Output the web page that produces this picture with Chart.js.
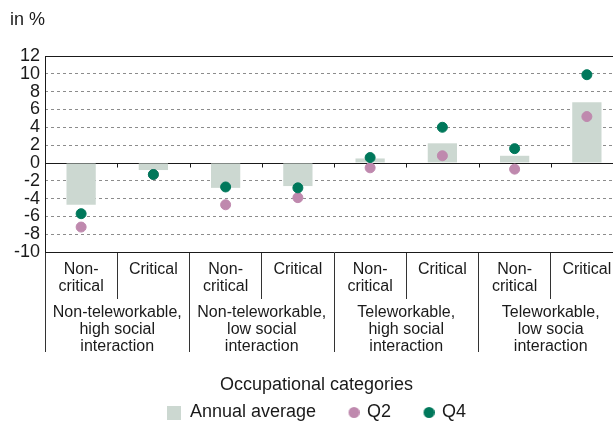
<!DOCTYPE html>
<html>
<head>
<meta charset="utf-8">
<script src="https://cdn.jsdelivr.net/npm/chart.js@4.4.1/dist/chart.umd.min.js"></script>
<style>
html,body{margin:0;padding:0;overflow:hidden;background:#fff;}
#wrap{width:630px;height:440px;}
</style>
</head>
<body>
<div id="wrap"><canvas id="c" width="630" height="440"></canvas></div>
<script>
// ---- data ----
const subLabels = [['Non-','critical'],'Critical',['Non-','critical'],'Critical',['Non-','critical'],'Critical',['Non-','critical'],'Critical'];
const groupLabels = [
  ['Non-teleworkable,','high social','interaction'],
  ['Non-teleworkable,','low social','interaction'],
  ['Teleworkable,','high social','interaction'],
  ['Teleworkable,','low socia','interaction']
];
const annualAverage = [-4.7, -0.8, -2.8, -2.6, 0.5, 2.2, 0.8, 6.8];
const q2Values      = [-7.2, -1.3, -4.7, -3.9, -0.55, 0.8, -0.7, 5.2];
const q4Values      = [-5.7, -1.3, -2.7, -2.8, 0.6, 4.0, 1.6, 9.9];
const seriesNames = ['Annual average','Q2','Q4'];
const yMin = -10, yMax = 12, yStep = 2;
const unitLabel = 'in %';
const axisTitle = 'Occupational categories';

// ---- styles ----
const FONT = '"Liberation Sans", Arial, Helvetica, sans-serif';
const TXT = '#1a1a1a';
const barColor = '#ccd8d1';
const q2Color = '#bf89ae';
const q4Color = '#00785b';

function makeIcon(shape, color, size, shift){
  const w = size + 2 * (shift || 0);
  const c = document.createElement('canvas');
  c.width = w; c.height = size;
  const g = c.getContext('2d');
  g.fillStyle = color;
  if (shape === 'rect') { g.fillRect(0,0,size,size); }
  else { g.beginPath(); g.arc(w/2 + (shift||0), size/2, size/2, 0, Math.PI*2); g.fill(); }
  return c;
}
const icons = [makeIcon('rect', barColor, 14, 0), makeIcon('circle', q2Color, 11, 3), makeIcon('circle', q4Color, 11, 3)];

const framePlugin = {
  id: 'frame',
  beforeDatasetsDraw(chart){
    const {ctx, chartArea} = chart;
    const xs = chart.scales.x, ys = chart.scales.y;
    const y0 = Math.round(ys.getPixelForValue(0)) + 0.5;
    ctx.save();
    ctx.strokeStyle = TXT; ctx.lineWidth = 1;
    ctx.beginPath();
    ctx.moveTo(chartArea.left, y0); ctx.lineTo(chartArea.right, y0);
    const yt = Math.round(chartArea.top) + 0.5;
    ctx.moveTo(chartArea.left, yt); ctx.lineTo(chartArea.right, yt);
    const xl = Math.round(chartArea.left) + 0.5;
    ctx.moveTo(xl, chartArea.top); ctx.lineTo(xl, chartArea.bottom);
    const n = xs.ticks.length;
    for (let i = 1; i < n; i++) {
      const xb = Math.round((xs.getPixelForTick(i-1) + xs.getPixelForTick(i)) / 2) + 0.5;
      ctx.moveTo(xb, y0); ctx.lineTo(xb, y0 + 4);
    }
    ctx.stroke();
    ctx.restore();
  }
};

new Chart(document.getElementById('c'), {
  data: {
    labels: subLabels,
    datasets: [
      { type: 'bar', label: seriesNames[0], data: annualAverage, backgroundColor: barColor,
        borderWidth: 0, categoryPercentage: 1, barPercentage: 0.405, order: 3 },
      { type: 'line', label: seriesNames[1], data: q2Values, showLine: false,
        pointRadius: 5, pointBackgroundColor: q2Color, pointBorderColor: q2Color, pointBorderWidth: 1, order: 2 },
      { type: 'line', label: seriesNames[2], data: q4Values, showLine: false,
        pointRadius: 5, pointBackgroundColor: q4Color, pointBorderColor: q4Color, pointBorderWidth: 1, order: 1 }
    ]
  },
  options: {
    responsive: false,
    devicePixelRatio: 1,
    animation: false,
    events: [],
    layout: { padding: { left: 10, right: 7, top: 0, bottom: 8.5 } },
    scales: {
      y: {
        min: yMin, max: yMax,
        ticks: { stepSize: yStep, autoSkip: false, color: TXT, padding: 5, font: { family: FONT, size: 18 } },
        grid: {
          drawTicks: false,
          color: c => (c.tick && (c.tick.value === 0 || c.tick.value === yMax || c.tick.value === yMin)) ? 'rgba(0,0,0,0)' : '#8c8c8c',
          lineWidth: 1
        },
        border: { display: false, dash: [3, 3] },
        afterFit: s => { s.width = 35; }
      },
      x: {
        type: 'category',
        position: 'bottom',
        offset: true,
        grid: { offset: true, drawOnChartArea: false, drawTicks: true, tickLength: 47, color: '#333', tickColor: '#333', lineWidth: 1 },
        border: { display: true, color: TXT, width: 1 },
        ticks: { padding: -38, color: TXT, maxRotation: 0, autoSkip: false, font: { family: FONT, size: 16, lineHeight: 17/16 } },
        afterFit: s => { s.height = 47; }
      },
      x2: {
        type: 'category',
        position: 'bottom',
        labels: groupLabels,
        offset: true,
        grid: { offset: true, drawOnChartArea: false, drawTicks: true, tickLength: 53, color: '#333', tickColor: '#333', lineWidth: 1 },
        border: { display: false },
        ticks: { padding: -47.5, color: TXT, maxRotation: 0, autoSkip: false, font: { family: FONT, size: 16, lineHeight: 17/16 } },
        afterFit: s => { s.height = 58; }
      }
    },
    plugins: {
      title: {
        display: true, text: unitLabel, align: 'start', color: TXT,
        font: { family: FONT, size: 18, weight: 'normal' },
        padding: { top: 9.5, bottom: 56 - 9.5 - 21.6 }
      },
      legend: {
        display: true, position: 'bottom',
        title: { display: true, text: axisTitle, color: TXT, font: { family: FONT, size: 18 }, padding: { top: 19.2, bottom: -22.3 } },
        labels: {
          usePointStyle: true, boxWidth: 14, boxHeight: 14, padding: 28, color: TXT,
          font: { family: FONT, size: 18 },
          generateLabels: chart => chart.data.datasets.map((ds, i) => ({
            text: ds.label, pointStyle: icons[i], datasetIndex: i, hidden: false,
            fillStyle: 'rgba(0,0,0,0)', strokeStyle: 'rgba(0,0,0,0)', lineWidth: 0, fontColor: TXT
          }))
        }
      },
      tooltip: { enabled: false }
    }
  },
  plugins: [framePlugin]
});
</script>
</body>
</html>
